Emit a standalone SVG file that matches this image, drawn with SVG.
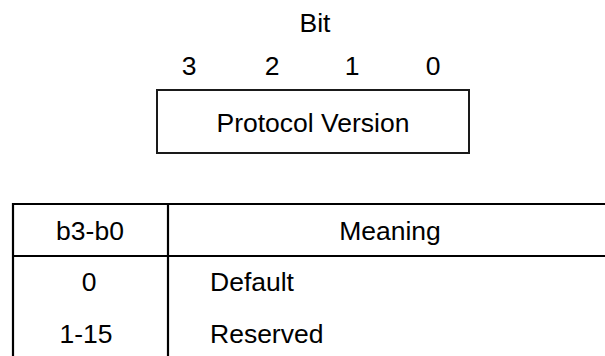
<svg xmlns="http://www.w3.org/2000/svg" width="605" height="356" viewBox="0 0 605 356">
<style>
text{font-family:"Liberation Sans",Arial,sans-serif;font-size:26.5px;fill:#000}
.m{text-anchor:middle}
.b{fill:#fff;stroke:#1a1a1a;stroke-width:2}
.l{stroke:#000;stroke-width:2.2;fill:none}
</style>
<rect width="605" height="356" fill="#fff"/>
<g id="bits">
<text class="m" x="315" y="32">Bit</text>
<text class="m" x="189" y="75">3</text>
<text class="m" x="272" y="75">2</text>
<text class="m" x="352" y="75">1</text>
<text class="m" x="433" y="75">0</text>
</g>
<g id="field">
<rect class="b" x="157" y="90" width="312" height="63"/>
<text class="m" x="313" y="132">Protocol Version</text>
</g>
<g id="table">
<path class="l" d="M12 204H605M12 256H605M13 203V356M168 204V356"/>
<text class="m" x="90" y="240">b3-b0</text>
<text class="m" x="390" y="240">Meaning</text>
<text class="m" x="89" y="291">0</text>
<text x="210" y="291">Default</text>
<text class="m" x="86" y="343">1-15</text>
<text x="210" y="343">Reserved</text>
</g>
</svg>
